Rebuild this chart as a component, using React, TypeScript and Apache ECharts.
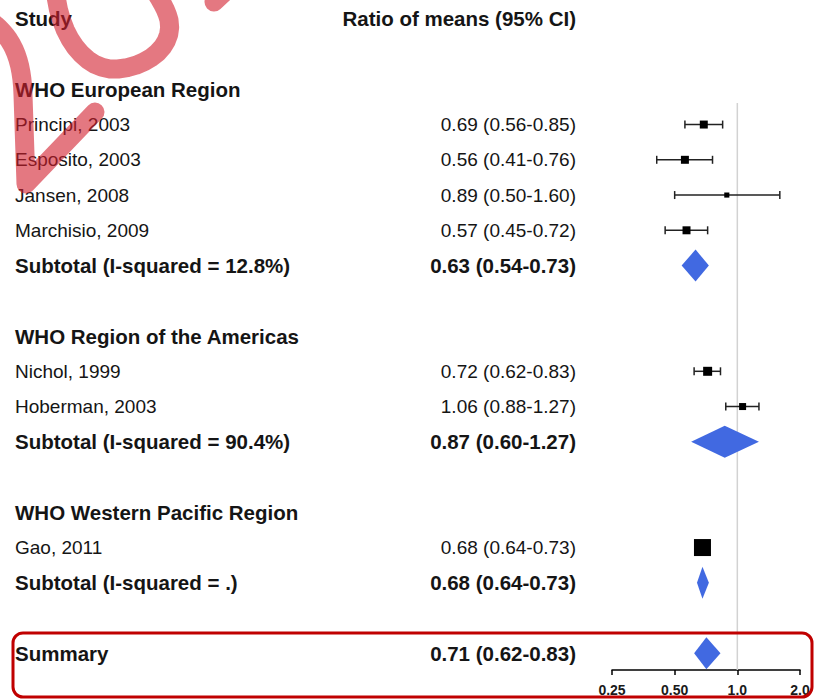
import React, { useEffect, useRef } from "react";
import * as echarts from "echarts";

const groupNames = ["WHO European Region", "WHO Region of the Americas", "WHO Western Pacific Region"];
const studyNames = ["Principi, 2003", "Esposito, 2003", "Jansen, 2008", "Marchisio, 2009", "Nichol, 1999", "Hoberman, 2003", "Gao, 2011"];
const studyGroup = [0, 0, 0, 0, 1, 1, 2];
const studyEst = [0.69, 0.56, 0.89, 0.57, 0.72, 1.06, 0.68];
const studyLo = [0.56, 0.41, 0.5, 0.45, 0.62, 0.88, 0.64];
const studyHi = [0.85, 0.76, 1.6, 0.72, 0.83, 1.27, 0.73];
const studyWeight = [22, 22, 9, 22, 28, 17, 100];
const subtotalLabels = ["Subtotal (I-squared = 12.8%)", "Subtotal (I-squared = 90.4%)", "Subtotal (I-squared = .)"];
const subEst = [0.63, 0.87, 0.68];
const subLo = [0.54, 0.6, 0.64];
const subHi = [0.73, 1.27, 0.73];
const summaryLabel = "Summary";
const summaryEst = [0.71];
const summaryLo = [0.62];
const summaryHi = [0.83];
const tickValues = [0.25, 0.5, 1, 2];
const tickLabels = ["0.25", "0.50", "1.0", "2.0"];
const headerStudy = "Study";
const headerValue = "Ratio of means (95% CI)";

const fmt = (e: number, l: number, h: number) => `${e.toFixed(2)} (${l.toFixed(2)}-${h.toFixed(2)})`;

type Row = { kind: string; label: string; value?: string; idx?: number } | null;

function buildRows(): Row[] {
  const rows: Row[] = [];
  rows.push({ kind: "header", label: headerStudy, value: headerValue });
  rows.push(null);
  groupNames.forEach((g, gi) => {
    rows.push({ kind: "group", label: g });
    studyNames.forEach((s, si) => {
      if (studyGroup[si] === gi) rows.push({ kind: "study", label: s, value: fmt(studyEst[si], studyLo[si], studyHi[si]), idx: si });
    });
    rows.push({ kind: "subtotal", label: subtotalLabels[gi], value: fmt(subEst[gi], subLo[gi], subHi[gi]), idx: gi });
    rows.push(null);
  });
  rows.push({ kind: "summary", label: summaryLabel, value: fmt(summaryEst[0], summaryLo[0], summaryHi[0]), idx: 0 });
  return rows;
}

const ROW0_Y = 18.8;
const ROW_H = 35.25;
const AXIS_Y = 670;
const Y_MIN = -ROW0_Y / ROW_H;
const Y_MAX = (AXIS_Y - ROW0_Y) / ROW_H;
const REF_TOP_ROW = (103 - ROW0_Y) / ROW_H;

const FONT_REG = '19px "Liberation Sans", Arial, sans-serif';
const FONT_BOLD = 'bold 20.5px "Liberation Sans", Arial, sans-serif';
const TEXT_COLOR = "#151515";
const BLUE = "#4169e1";

// decorative hand-drawn watermark strokes (cubic segments)
function sampleCubic(p0: number[], p1: number[], p2: number[], p3: number[], n: number): number[][] {
  const out: number[][] = [];
  for (let i = 0; i <= n; i++) {
    const t = i / n;
    const a = (1 - t) ** 3, b = 3 * (1 - t) ** 2 * t, c = 3 * (1 - t) * t * t, d = t ** 3;
    out.push([a * p0[0] + b * p1[0] + c * p2[0] + d * p3[0], a * p0[1] + b * p1[1] + c * p2[1] + d * p3[1]]);
  }
  return out;
}

export default function App() {
  const ref = useRef<HTMLDivElement>(null);
  useEffect(() => {
    if (!ref.current) return;
    const chart = echarts.init(ref.current, undefined, { renderer: "svg" });
    const rows = buildRows();

    const textItems: { x: number; row: number; text: string; bold: boolean; align: string }[] = [];
    const studyData: number[][] = [];
    const diamondData: number[][] = [];
    rows.forEach((r, ri) => {
      if (!r) return;
      const bold = r.kind !== "study";
      textItems.push({ x: 15, row: ri, text: r.label, bold, align: "left" });
      if (r.value) textItems.push({ x: 576, row: ri, text: r.value, bold, align: "right" });
      if (r.kind === "study" && r.idx !== undefined) {
        const i = r.idx;
        studyData.push([studyLo[i], studyHi[i], studyEst[i], ri, studyWeight[i]]);
      }
      if (r.kind === "subtotal" && r.idx !== undefined) {
        const i = r.idx;
        diamondData.push([subLo[i], subHi[i], subEst[i], ri]);
      }
      if (r.kind === "summary") {
        diamondData.push([summaryLo[0], summaryHi[0], summaryEst[0], ri]);
      }
    });

    const strokeA = sampleCubic([-8, 22], [10, 36], [22, 55], [23, 95], 14).concat([[26, 184], [95, 112]]);
    const strokeB = sampleCubic([55, -14], [58, 35], [85, 72], [118, 69], 12)
      .concat(sampleCubic([118, 69], [150, 66], [174, 45], [169, 20], 10).slice(1))
      .concat(sampleCubic([169, 20], [166, 8], [160, 0], [152, -14], 6).slice(1));
    const wmStyle = { fill: "none", stroke: "rgba(210,30,45,0.6)", lineWidth: 19, lineCap: "round", lineJoin: "round" };

    const option: any = {
      animation: false,
      backgroundColor: "#ffffff",
      grid: [
        { left: 0, top: 0, width: 825, height: AXIS_Y },
        { left: 612, top: 0, width: 188, height: AXIS_Y },
      ],
      xAxis: [
        { gridIndex: 0, type: "value", min: 0, max: 825, show: false },
        {
          gridIndex: 1,
          type: "log",
          logBase: 2,
          position: "bottom",
          min: tickValues[0],
          max: tickValues[tickValues.length - 1],
          axisLine: { show: true, onZero: false, lineStyle: { color: "#000", width: 1.5 } },
          axisTick: { show: true, inside: false, length: 5, lineStyle: { color: "#000", width: 1.5 } },
          splitLine: { show: false },
          minorTick: { show: false },
          axisLabel: {
            margin: 13,
            color: "#1a1a1a",
            fontSize: 14,
            fontWeight: "bold",
            fontFamily: '"Liberation Sans", Arial, sans-serif',
            formatter: (v: number) => {
              const i = tickValues.findIndex((t) => Math.abs(t - v) < 1e-6);
              return i >= 0 ? tickLabels[i] : "";
            },
          },
        },
      ],
      yAxis: [
        { gridIndex: 0, type: "value", inverse: true, min: Y_MIN, max: Y_MAX, show: false },
        { gridIndex: 1, type: "value", inverse: true, min: Y_MIN, max: Y_MAX, show: false },
      ],
      series: [
        {
          type: "custom",
          xAxisIndex: 0,
          yAxisIndex: 0,
          data: textItems.map((t) => [t.x, t.row]),
          encode: { x: 0, y: 1 },
          renderItem: (params: any, api: any) => {
            const t = textItems[params.dataIndex];
            const p = api.coord([api.value(0), api.value(1)]);
            return {
              type: "text",
              style: {
                x: p[0],
                y: p[1],
                text: t.text,
                fill: TEXT_COLOR,
                font: t.bold ? FONT_BOLD : FONT_REG,
                align: t.align,
                verticalAlign: "middle",
              },
            };
          },
        },
        {
          type: "custom",
          xAxisIndex: 1,
          yAxisIndex: 1,
          data: [[1, REF_TOP_ROW, Y_MAX]],
          encode: { x: 0, y: [1, 2] },
          renderItem: (params: any, api: any) => {
            const a = api.coord([api.value(0), api.value(1)]);
            const b = api.coord([api.value(0), api.value(2)]);
            return {
              type: "line",
              shape: { x1: a[0], y1: a[1], x2: b[0], y2: b[1] },
              style: { stroke: "#d2d2d2", lineWidth: 1.5 },
            };
          },
        },
        {
          type: "custom",
          xAxisIndex: 1,
          yAxisIndex: 1,
          data: studyData,
          encode: { x: [0, 1, 2], y: 3 },
          renderItem: (params: any, api: any) => {
            const row = api.value(3);
            const p0 = api.coord([api.value(0), row]);
            const p1 = api.coord([api.value(1), row]);
            const pc = api.coord([api.value(2), row]);
            const s = 17 * Math.sqrt(api.value(4) / 100);
            const ls = { stroke: "#222", lineWidth: 1.5 };
            return {
              type: "group",
              children: [
                { type: "line", shape: { x1: p0[0], y1: p0[1], x2: p1[0], y2: p1[1] }, style: ls },
                { type: "line", shape: { x1: p0[0], y1: p0[1] - 4, x2: p0[0], y2: p0[1] + 4 }, style: ls },
                { type: "line", shape: { x1: p1[0], y1: p1[1] - 4, x2: p1[0], y2: p1[1] + 4 }, style: ls },
                { type: "rect", shape: { x: pc[0] - s / 2, y: pc[1] - s / 2, width: s, height: s }, style: { fill: "#000" } },
              ],
            };
          },
        },
        {
          type: "custom",
          xAxisIndex: 1,
          yAxisIndex: 1,
          data: diamondData,
          encode: { x: [0, 1, 2], y: 3 },
          renderItem: (params: any, api: any) => {
            const row = api.value(3);
            const p0 = api.coord([api.value(0), row]);
            const p1 = api.coord([api.value(1), row]);
            const pc = api.coord([api.value(2), row]);
            const h = 16;
            return {
              type: "polygon",
              shape: { points: [[p0[0], p0[1]], [pc[0], pc[1] - h], [p1[0], p1[1]], [pc[0], pc[1] + h]] },
              style: { fill: BLUE },
            };
          },
        },
      ],
      graphic: [
        { type: "rect", z: 50, shape: { x: 814, y: 640, width: 11, height: 59 }, style: { fill: "#fff" } },
        {
          type: "rect",
          z: 60,
          shape: { x: 13, y: 633, width: 799, height: 64, r: 10 },
          style: { fill: "none", stroke: "#c00000", lineWidth: 3 },
        },
        { type: "polyline", z: 100, shape: { points: strokeA }, style: wmStyle },
        { type: "polyline", z: 100, shape: { points: strokeB }, style: wmStyle },
        { type: "line", z: 100, shape: { x1: 214, y1: 2, x2: 242, y2: -24 }, style: wmStyle },
      ],
    };
    chart.setOption(option);
    return () => chart.dispose();
  }, []);
  return <div ref={ref} style={{ position: "absolute", left: 0, top: 0, width: 825, height: 699 }} />;
}
